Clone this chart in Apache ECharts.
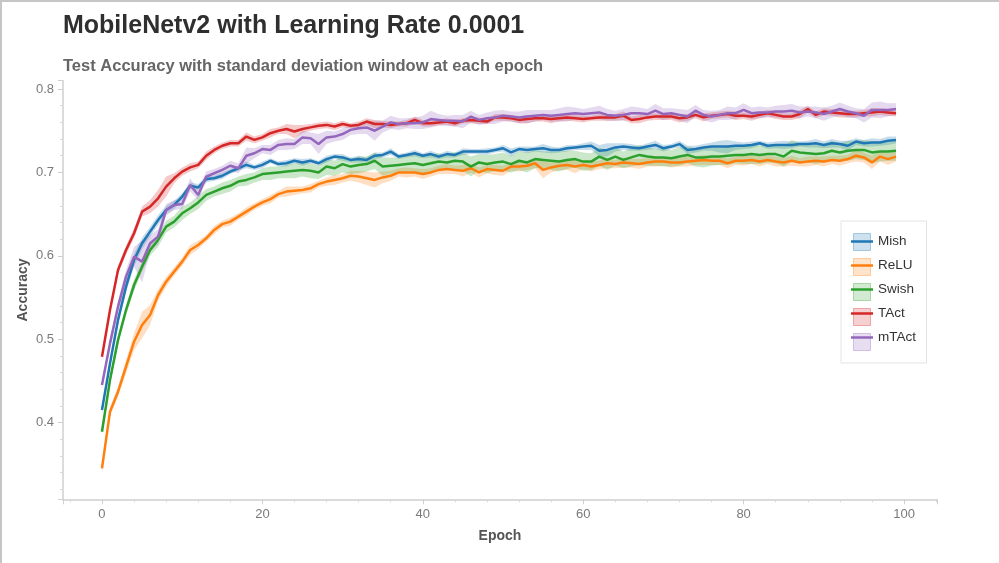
<!DOCTYPE html>
<html>
<head>
<meta charset="utf-8">
<script src="https://cdn.jsdelivr.net/npm/echarts@6/dist/echarts.min.js"></script>
<style>
  html, body { margin: 0; padding: 0; background: #fff; }
  #chart { position: absolute; left: 0; top: 0; width: 999px; height: 563px; }
  #frame { position: absolute; left: 0; top: 0; width: 999px; height: 563px; box-sizing: border-box;
           border-left: 2px solid #c6c6c6; border-top: 2px solid #c6c6c6; pointer-events: none; }
</style>
</head>
<body>
<div id="chart"></div>
<div id="frame"></div>
<script>
// Mean test accuracy per epoch (index = epoch) and its standard deviation.
const mishMean = [
  0.415, 0.471, 0.523, 0.563, 0.595, 0.615, 0.629, 0.643, 0.655, 0.661,
  0.671, 0.684, 0.682, 0.692, 0.693, 0.696, 0.701, 0.705, 0.709, 0.706,
  0.709, 0.714, 0.710, 0.711, 0.714, 0.712, 0.714, 0.711, 0.716, 0.719,
  0.718, 0.715, 0.716, 0.715, 0.720, 0.721, 0.725, 0.719, 0.721, 0.723,
  0.720, 0.722, 0.719, 0.722, 0.721, 0.725, 0.725, 0.725, 0.725, 0.727,
  0.729, 0.724, 0.728, 0.727, 0.728, 0.729, 0.727, 0.727, 0.729, 0.730,
  0.731, 0.732, 0.726, 0.727, 0.730, 0.731, 0.730, 0.729, 0.731, 0.733,
  0.729, 0.731, 0.734, 0.727, 0.728, 0.730, 0.731, 0.731, 0.731, 0.732,
  0.732, 0.733, 0.735, 0.732, 0.733, 0.733, 0.733, 0.734, 0.734, 0.735,
  0.733, 0.735, 0.734, 0.732, 0.737, 0.735, 0.736, 0.736, 0.738, 0.739
];
const mishStd = [
  0.004, 0.005, 0.006, 0.007, 0.008, 0.007, 0.006, 0.006, 0.005, 0.005,
  0.004, 0.004, 0.004, 0.004, 0.003, 0.004, 0.003, 0.003, 0.004, 0.003,
  0.004, 0.003, 0.003, 0.004, 0.003, 0.004, 0.003, 0.003, 0.004, 0.003,
  0.004, 0.003, 0.004, 0.003, 0.004, 0.003, 0.004, 0.003, 0.003, 0.004,
  0.003, 0.004, 0.003, 0.004, 0.003, 0.004, 0.003, 0.003, 0.004, 0.003,
  0.004, 0.005, 0.003, 0.004, 0.003, 0.005, 0.004, 0.003, 0.004, 0.003,
  0.004, 0.005, 0.007, 0.008, 0.005, 0.004, 0.004, 0.003, 0.004, 0.005,
  0.004, 0.003, 0.004, 0.005, 0.004, 0.004, 0.005, 0.007, 0.008, 0.005,
  0.004, 0.004, 0.003, 0.004, 0.004, 0.005, 0.004, 0.003, 0.004, 0.005,
  0.004, 0.005, 0.004, 0.006, 0.004, 0.004, 0.005, 0.004, 0.005, 0.004
];
const reluMean = [
  0.345, 0.413, 0.437, 0.467, 0.497, 0.517, 0.529, 0.553, 0.569, 0.581,
  0.593, 0.607, 0.613, 0.621, 0.631, 0.638, 0.641, 0.647, 0.653, 0.659,
  0.664, 0.668, 0.674, 0.677, 0.678, 0.679, 0.681, 0.686, 0.689, 0.691,
  0.693, 0.696, 0.695, 0.693, 0.691, 0.694, 0.696, 0.700, 0.700, 0.700,
  0.698, 0.700, 0.703, 0.704, 0.703, 0.702, 0.705, 0.700, 0.704, 0.703,
  0.702, 0.707, 0.707, 0.708, 0.711, 0.703, 0.706, 0.708, 0.709, 0.707,
  0.709, 0.707, 0.709, 0.711, 0.710, 0.712, 0.711, 0.710, 0.712, 0.713,
  0.713, 0.712, 0.712, 0.713, 0.714, 0.715, 0.714, 0.714, 0.711, 0.714,
  0.714, 0.715, 0.713, 0.715, 0.713, 0.712, 0.714, 0.712, 0.713, 0.714,
  0.713, 0.715, 0.714, 0.716, 0.720, 0.718, 0.712, 0.719, 0.716, 0.719
];
const reluStd = [
  0.006, 0.005, 0.006, 0.008, 0.010, 0.016, 0.012, 0.007, 0.006, 0.005,
  0.005, 0.006, 0.005, 0.004, 0.005, 0.004, 0.005, 0.004, 0.005, 0.004,
  0.004, 0.005, 0.004, 0.006, 0.005, 0.004, 0.005, 0.004, 0.005, 0.006,
  0.005, 0.006, 0.007, 0.008, 0.009, 0.007, 0.006, 0.005, 0.006, 0.005,
  0.006, 0.005, 0.005, 0.006, 0.005, 0.007, 0.005, 0.006, 0.005, 0.006,
  0.006, 0.005, 0.006, 0.005, 0.006, 0.010, 0.006, 0.005, 0.006, 0.008,
  0.005, 0.006, 0.005, 0.006, 0.005, 0.006, 0.005, 0.006, 0.005, 0.006,
  0.005, 0.006, 0.005, 0.006, 0.005, 0.006, 0.005, 0.005, 0.006, 0.005,
  0.006, 0.005, 0.006, 0.005, 0.006, 0.005, 0.006, 0.005, 0.006, 0.005,
  0.006, 0.005, 0.006, 0.005, 0.007, 0.006, 0.008, 0.006, 0.007, 0.006
];
const swishMean = [
  0.389, 0.451, 0.499, 0.535, 0.565, 0.587, 0.607, 0.619, 0.635, 0.641,
  0.651, 0.657, 0.664, 0.673, 0.677, 0.681, 0.684, 0.689, 0.691, 0.694,
  0.698, 0.699, 0.700, 0.701, 0.702, 0.703, 0.702, 0.700, 0.707, 0.705,
  0.710, 0.707, 0.709, 0.710, 0.714, 0.707, 0.708, 0.709, 0.710, 0.711,
  0.709, 0.711, 0.713, 0.712, 0.714, 0.713, 0.707, 0.712, 0.710, 0.712,
  0.713, 0.710, 0.714, 0.712, 0.716, 0.715, 0.714, 0.713, 0.715, 0.716,
  0.713, 0.713, 0.719, 0.715, 0.719, 0.715, 0.718, 0.721, 0.719, 0.718,
  0.718, 0.717, 0.719, 0.721, 0.718, 0.718, 0.719, 0.719, 0.720, 0.721,
  0.721, 0.722, 0.721, 0.722, 0.722, 0.719, 0.726, 0.724, 0.723, 0.722,
  0.723, 0.726, 0.724, 0.726, 0.727, 0.727, 0.724, 0.725, 0.725, 0.726
];
const swishStd = [
  0.004, 0.005, 0.006, 0.006, 0.007, 0.006, 0.007, 0.008, 0.007, 0.007,
  0.008, 0.007, 0.008, 0.007, 0.006, 0.007, 0.007, 0.006, 0.007, 0.006,
  0.007, 0.008, 0.007, 0.008, 0.009, 0.008, 0.009, 0.008, 0.010, 0.009,
  0.010, 0.009, 0.010, 0.009, 0.010, 0.011, 0.010, 0.009, 0.010, 0.011,
  0.010, 0.011, 0.010, 0.009, 0.010, 0.011, 0.012, 0.010, 0.011, 0.010,
  0.011, 0.010, 0.011, 0.012, 0.011, 0.010, 0.011, 0.012, 0.011, 0.010,
  0.011, 0.010, 0.011, 0.012, 0.011, 0.010, 0.011, 0.012, 0.011, 0.010,
  0.011, 0.010, 0.011, 0.010, 0.011, 0.012, 0.011, 0.010, 0.011, 0.010,
  0.011, 0.012, 0.011, 0.010, 0.011, 0.012, 0.013, 0.012, 0.011, 0.012,
  0.011, 0.012, 0.011, 0.012, 0.011, 0.012, 0.013, 0.012, 0.011, 0.012
];
const tactMean = [
  0.479, 0.535, 0.583, 0.607, 0.627, 0.653, 0.659, 0.669, 0.683, 0.693,
  0.701, 0.706, 0.709, 0.720, 0.727, 0.732, 0.735, 0.735, 0.743, 0.739,
  0.742, 0.747, 0.750, 0.752, 0.749, 0.752, 0.754, 0.756, 0.757, 0.755,
  0.758, 0.756, 0.757, 0.761, 0.758, 0.758, 0.757, 0.758, 0.759, 0.763,
  0.759, 0.759, 0.760, 0.761, 0.759, 0.762, 0.763, 0.762, 0.761, 0.766,
  0.766, 0.765, 0.763, 0.764, 0.765, 0.765, 0.764, 0.765, 0.766, 0.765,
  0.764, 0.765, 0.766, 0.766, 0.766, 0.768, 0.763, 0.764, 0.766, 0.767,
  0.767, 0.767, 0.765, 0.766, 0.769, 0.766, 0.768, 0.769, 0.770, 0.768,
  0.768, 0.767, 0.769, 0.771, 0.769, 0.767, 0.767, 0.770, 0.776, 0.769,
  0.773, 0.772, 0.771, 0.770, 0.770, 0.771, 0.772, 0.773, 0.772, 0.771
];
const tactStd = [
  0.003, 0.004, 0.005, 0.005, 0.006, 0.006, 0.008, 0.010, 0.012, 0.006,
  0.005, 0.005, 0.004, 0.005, 0.004, 0.004, 0.004, 0.004, 0.005, 0.004,
  0.004, 0.005, 0.004, 0.006, 0.008, 0.005, 0.004, 0.004, 0.004, 0.004,
  0.004, 0.003, 0.004, 0.004, 0.005, 0.004, 0.004, 0.003, 0.004, 0.004,
  0.004, 0.004, 0.003, 0.004, 0.004, 0.003, 0.004, 0.004, 0.003, 0.004,
  0.004, 0.004, 0.004, 0.005, 0.004, 0.004, 0.005, 0.004, 0.004, 0.004,
  0.004, 0.003, 0.004, 0.004, 0.004, 0.005, 0.004, 0.005, 0.004, 0.004,
  0.004, 0.004, 0.005, 0.004, 0.004, 0.005, 0.004, 0.004, 0.004, 0.005,
  0.004, 0.005, 0.004, 0.004, 0.005, 0.004, 0.004, 0.005, 0.004, 0.004,
  0.004, 0.004, 0.005, 0.004, 0.004, 0.004, 0.005, 0.004, 0.004, 0.004
];
const mtactMean = [
  0.445, 0.495, 0.539, 0.575, 0.599, 0.593, 0.615, 0.623, 0.655, 0.661,
  0.662, 0.685, 0.673, 0.695, 0.699, 0.703, 0.708, 0.705, 0.720, 0.723,
  0.728, 0.727, 0.733, 0.734, 0.734, 0.742, 0.741, 0.734, 0.742, 0.743,
  0.746, 0.751, 0.753, 0.754, 0.750, 0.755, 0.760, 0.758, 0.759, 0.759,
  0.760, 0.764, 0.763, 0.762, 0.762, 0.761, 0.767, 0.763, 0.765, 0.766,
  0.768, 0.767, 0.766, 0.767, 0.768, 0.769, 0.768, 0.769, 0.770, 0.771,
  0.770, 0.771, 0.772, 0.769, 0.768, 0.769, 0.771, 0.771, 0.770, 0.774,
  0.770, 0.771, 0.769, 0.767, 0.774, 0.769, 0.767, 0.769, 0.771, 0.771,
  0.775, 0.771, 0.772, 0.772, 0.773, 0.773, 0.774, 0.772, 0.773, 0.772,
  0.770, 0.773, 0.776, 0.773, 0.771, 0.768, 0.775, 0.775, 0.775, 0.776
];
const mtactStd = [
  0.005, 0.006, 0.007, 0.008, 0.012, 0.025, 0.010, 0.009, 0.007, 0.006,
  0.006, 0.008, 0.006, 0.006, 0.005, 0.005, 0.006, 0.006, 0.010, 0.006,
  0.005, 0.006, 0.006, 0.007, 0.006, 0.008, 0.007, 0.012, 0.008, 0.006,
  0.007, 0.006, 0.007, 0.008, 0.012, 0.007, 0.008, 0.007, 0.006, 0.007,
  0.008, 0.010, 0.007, 0.006, 0.007, 0.008, 0.007, 0.006, 0.007, 0.008,
  0.007, 0.006, 0.007, 0.008, 0.007, 0.006, 0.007, 0.008, 0.009, 0.007,
  0.006, 0.007, 0.008, 0.007, 0.006, 0.007, 0.008, 0.007, 0.006, 0.008,
  0.007, 0.006, 0.007, 0.008, 0.007, 0.006, 0.007, 0.006, 0.008, 0.007,
  0.008, 0.007, 0.007, 0.006, 0.007, 0.008, 0.008, 0.007, 0.006, 0.007,
  0.008, 0.007, 0.008, 0.007, 0.006, 0.008, 0.009, 0.010, 0.008, 0.007
];

const runNames = ['Mish', 'ReLU', 'Swish', 'TAct', 'mTAct'];
const runColors = ['#1f77b4', '#ff7f0e', '#2ca02c', '#d62728', '#9467bd'];
const runMeans = [mishMean, reluMean, swishMean, tactMean, mtactMean];
const runStds = [mishStd, reluStd, swishStd, tactStd, mtactStd];

const FONT = '"Liberation Sans", Arial, Helvetica, sans-serif';

function tint(hex, a) {
  const n = parseInt(hex.slice(1), 16);
  return 'rgba(' + (n >> 16) + ',' + ((n >> 8) & 255) + ',' + (n & 255) + ',' + a + ')';
}

const series = [];

// Shaded mean ± std window, drawn as one polygon through the axis scales.
runNames.forEach(function (name, k) {
  const mean = runMeans[k], std = runStds[k];
  series.push({
    type: 'custom',
    name: name + ' std',
    silent: true,
    z: 1,
    encode: { x: 0, y: [1, 2] },
    data: mean.map(function (m, i) { return [i, m - std[i], m + std[i]]; }),
    renderItem: function (params, api) {
      if (params.dataIndex !== 0) return null;
      const upper = mean.map(function (m, i) { return api.coord([i, m + std[i]]); });
      const lower = mean.map(function (m, i) { return api.coord([i, m - std[i]]); }).reverse();
      return {
        type: 'polygon',
        shape: { points: upper.concat(lower) },
        style: { fill: tint(runColors[k], 0.25), stroke: null }
      };
    }
  });
});

// Mean curves.
runNames.forEach(function (name, k) {
  series.push({
    type: 'line',
    name: name,
    z: 3,
    symbol: 'none',
    data: runMeans[k].map(function (m, i) { return [i, m]; }),
    lineStyle: { color: runColors[k], width: 2.5 },
    itemStyle: { color: runColors[k] },
    emphasis: { disabled: true }
  });
});

const axisLineStyle = { color: '#cfcfcf', width: 1.5 };
const tickLabel = { color: '#7a7a7a', fontSize: 13, fontFamily: FONT };
const axisName = { color: '#555', fontSize: 14, fontWeight: 'bold', fontFamily: FONT };

const option = {
  animation: false,
  backgroundColor: '#fff',
  title: [
    {
      text: 'MobileNetv2 with Learning Rate 0.0001',
      left: 63, top: 13.5, padding: 0,
      textStyle: { color: '#2f2f2f', fontSize: 25, fontWeight: 'bold', fontFamily: FONT }
    },
    {
      text: 'Test Accuracy with standard deviation window at each epoch',
      left: 63, top: 58, padding: 0,
      textStyle: { color: '#666', fontSize: 16.5, fontWeight: 'bold', fontFamily: FONT }
    }
  ],
  grid: { left: 63, right: 62, top: 80.7, bottom: 63.7, containLabel: false, outerBoundsMode: 'none' },
  xAxis: {
    type: 'value',
    min: -4.86, max: 104.11,
    name: 'Epoch', nameLocation: 'middle', nameGap: 30, nameMoveOverlap: false, nameTextStyle: axisName,
    axisLine: { show: true, onZero: false, lineStyle: axisLineStyle },
    axisTick: { show: true, length: 5, lineStyle: { color: '#cfcfcf' } },
    minorTick: { show: true, splitNumber: 5, length: 3, lineStyle: { color: '#d8d8d8' } },
    axisLabel: Object.assign({ margin: 9, showMinLabel: false, showMaxLabel: false }, tickLabel),
    splitLine: { show: false },
    minorSplitLine: { show: false }
  },
  yAxis: {
    type: 'value',
    min: 0.308, max: 0.81,
    name: 'Accuracy', nameLocation: 'middle', nameGap: 33, nameMoveOverlap: false, nameRotate: 90, nameTextStyle: axisName,
    axisLine: { show: true, onZero: false, lineStyle: axisLineStyle },
    axisTick: { show: true, length: 5, lineStyle: { color: '#cfcfcf' } },
    minorTick: { show: true, splitNumber: 5, length: 3, lineStyle: { color: '#d8d8d8' } },
    axisLabel: Object.assign({ margin: 9, showMinLabel: false, showMaxLabel: false }, tickLabel),
    splitLine: { show: false },
    minorSplitLine: { show: false }
  },
  legend: [
    {
      // framed box with the shaded swatches
      orient: 'vertical',
      left: 841, top: 221,
      padding: [12, 13, 12, 12],
      borderColor: '#e3e3e3', borderWidth: 1, backgroundColor: '#fff',
      icon: 'rect', itemWidth: 17, itemHeight: 17, itemGap: 7,
      selectedMode: false,
      textStyle: { color: 'rgba(0,0,0,0)', fontSize: 13.5, lineHeight: 17, fontFamily: FONT },
      data: runNames.map(function (name, k) {
        return { name: name, itemStyle: { color: tint(runColors[k], 0.22), borderColor: tint(runColors[k], 0.35), borderWidth: 1 } };
      })
    },
    {
      // line swatches and labels on top of the box
      orient: 'vertical',
      left: 851, top: 233,
      padding: 0,
      icon: 'rect', itemWidth: 22, itemHeight: 2.5, itemGap: 7,
      selectedMode: false,
      textStyle: { color: '#333', fontSize: 13.5, lineHeight: 17, fontFamily: FONT },
      data: runNames.map(function (name, k) {
        return { name: name, itemStyle: { color: runColors[k] } };
      })
    }
  ],
  series: series
};

const chart = echarts.init(document.getElementById('chart'), null, { renderer: 'canvas' });
chart.setOption(option);
</script>
</body>
</html>
